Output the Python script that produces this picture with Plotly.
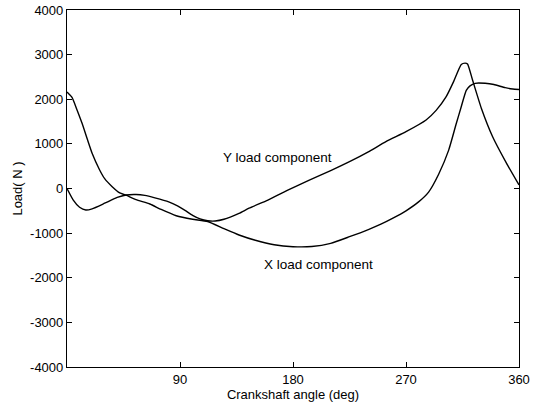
import plotly.graph_objects as go

# Crankshaft angle (deg) and load components (N)
x_angle = [0, 4, 8, 12, 16, 20, 26, 30, 36, 42, 47, 55, 66, 75, 87, 100, 112,
           125, 137, 150, 165, 180, 195, 210, 225, 240, 250, 260, 270, 280,
           288, 296, 304, 310, 314, 318, 321, 325, 333, 340, 349, 355, 360]
x_load = [2160, 2040, 1760, 1460, 1120, 790, 415, 220, 40, -100, -150, -250,
          -347, -470, -610, -690, -740, -900, -1042, -1160, -1260, -1304,
          -1300, -1230, -1080, -920, -800, -660, -500, -300, -80, 320, 860,
          1450, 1833, 2200, 2300, 2357, 2357, 2330, 2259, 2230, 2220]

y_angle = [0, 5, 10, 15, 20, 30, 40, 47, 55, 62, 70, 81, 88, 94, 100, 106,
           112, 118, 125, 137, 145, 160, 175, 193, 210, 225, 240, 254, 270,
           286, 294, 302, 308, 314, 317, 319, 323, 330, 339, 350, 360]
y_load = [0, -260, -420, -482, -455, -330, -200, -146, -135, -155, -210,
          -300, -390, -490, -600, -680, -722, -728, -690, -556, -442, -258,
          -50, 190, 400, 600, 820, 1050, 1273, 1535, 1750, 2057, 2400, 2780,
          2810, 2790, 2431, 1800, 1161, 570, 80]

x_ticks = [90, 180, 270, 360]
y_ticks = [-4000, -3000, -2000, -1000, 0, 1000, 2000, 3000, 4000]
y_tick_text = [str(v) for v in y_ticks]

line_style = dict(color="black", width=1.4, shape="spline", smoothing=0.5)

fig = go.Figure()
fig.add_trace(go.Scatter(x=x_angle, y=x_load, mode="lines", line=line_style,
                         name="X load component"))
fig.add_trace(go.Scatter(x=y_angle, y=y_load, mode="lines", line=line_style,
                         name="Y load component"))

label_font = dict(size=13.5, color="black")
fig.add_annotation(x=167.6, y=695, text="Y load component", showarrow=False,
                   font=label_font)
fig.add_annotation(x=200, y=-1714, text="X load component", showarrow=False,
                   font=label_font)

axis_common = dict(showgrid=False, zeroline=False, showline=True,
                   linecolor="black", linewidth=1.2, mirror="ticks",
                   ticks="inside", ticklen=5, tickcolor="black",
                   automargin=False,
                   tickfont=dict(size=13, color="black"))

fig.update_xaxes(range=[0, 360], tickvals=x_ticks,
                 title=dict(text="Crankshaft angle (deg)", standoff=2,
                            font=dict(size=13, color="black")),
                 **axis_common)
fig.update_yaxes(range=[-4000, 4000], tickvals=y_ticks, ticktext=y_tick_text,
                 title=dict(text="Load( N )", standoff=4,
                            font=dict(size=13, color="black")),
                 **axis_common)

fig.update_layout(width=534, height=413, showlegend=False,
                  plot_bgcolor="white", paper_bgcolor="white",
                  margin=dict(l=67, r=15, t=10, b=46),
                  font=dict(family="Liberation Sans, Arial, sans-serif",
                            color="black"))

fig.write_html("out.html")
